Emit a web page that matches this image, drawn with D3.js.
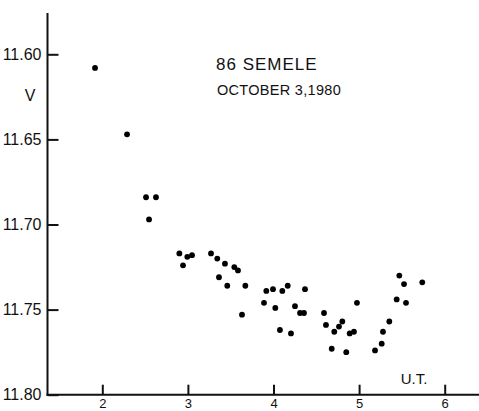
<!DOCTYPE html>
<html>
<head>
<meta charset="utf-8">
<script src="https://cdn.jsdelivr.net/npm/d3@7"></script>
<style>
  body { margin: 0; background: #fff; }
  svg text { font-family: "Liberation Sans", Arial, sans-serif; fill: #111; }
</style>
</head>
<body>
<div id="chart"></div>
<script>
// light curve of 86 Semele, 1980 Oct 3
const ut = [1.915, 2.289, 2.511, 2.627, 2.546, 2.900, 2.943, 2.993, 3.048, 3.270,
    3.343, 3.433, 3.363, 3.542, 3.585, 3.460, 3.671, 3.632, 3.916, 3.994,
    3.889, 4.103, 4.166, 4.368, 4.021, 4.251, 4.310, 4.356, 4.590, 4.975,
    4.075, 4.204, 4.613, 4.804, 4.765, 4.710, 4.680, 4.850, 4.890, 4.940,
    5.186, 5.264, 5.279, 5.353, 5.439, 5.548, 5.470, 5.525, 5.738];
const mag = [11.608, 11.647, 11.684, 11.684, 11.697, 11.717, 11.724, 11.719, 11.718, 11.717,
    11.720, 11.723, 11.731, 11.725, 11.727, 11.736, 11.736, 11.753, 11.739, 11.738,
    11.746, 11.739, 11.736, 11.738, 11.749, 11.748, 11.752, 11.752, 11.752, 11.746,
    11.762, 11.764, 11.759, 11.757, 11.760, 11.763, 11.773, 11.775, 11.764, 11.763,
    11.774, 11.770, 11.763, 11.757, 11.744, 11.746, 11.730, 11.735, 11.734];
const xTicks = [2, 3, 4, 5, 6];
const yTicks = [11.60, 11.65, 11.70, 11.75, 11.80];
const titleLines = ["86 SEMELE", "OCTOBER 3,1980"];

const width = 479, height = 411;
const svg = d3.select("#chart").append("svg")
    .attr("width", width)
    .attr("height", height);

let x = d3.scaleLinear().domain([2, 6]).range([102.3, 444.7]);
let y = d3.scaleLinear().domain([11.60, 11.80]).range([54.3, 394.7]);
const x0 = 47.5, yTop = 13;

// y axis, ticks pointing inward
let yAxis = svg.append("g")
    .attr("class", "y-axis")
    .attr("transform", `translate(${x0},0)`)
    .call(d3.axisLeft(y).tickValues(yTicks).tickFormat(d3.format(".2f")).tickSize(-11).tickPadding(6));
yAxis.select(".domain").remove();
yAxis.selectAll(".tick line").attr("stroke", "#111").attr("stroke-width", 2);
yAxis.selectAll(".tick text").attr("font-size", 16).attr("fill", "#111");

// x axis, ticks pointing up
let xAxis = svg.append("g")
    .attr("class", "x-axis")
    .attr("transform", `translate(0,${y(11.80)})`)
    .call(d3.axisBottom(x).tickValues(xTicks).tickFormat(d3.format("d")).tickSize(-10).tickPadding(4));
xAxis.select(".domain").remove();
xAxis.selectAll(".tick line").attr("stroke", "#111").attr("stroke-width", 2);
xAxis.selectAll(".tick text").attr("font-size", 13).attr("fill", "#111");

// spines
svg.append("line")
    .attr("x1", x0).attr("x2", x0)
    .attr("y1", yTop).attr("y2", y(11.80) + 1)
    .attr("stroke", "#111").attr("stroke-width", 2);
svg.append("line")
    .attr("x1", x0 - 1).attr("x2", width)
    .attr("y1", y(11.80)).attr("y2", y(11.80))
    .attr("stroke", "#111").attr("stroke-width", 2);

// points
svg.selectAll(".pt")
    .data(ut.map((d, i) => ({ u: d, v: mag[i] })))
    .enter()
    .append("circle")
    .attr("class", "pt")
    .attr("cx", d => x(d.u))
    .attr("cy", d => y(d.v))
    .attr("r", 2.9)
    .attr("fill", "#000");

// labels
svg.append("text").attr("x", 30).attr("y", 101).attr("text-anchor", "middle")
    .attr("font-size", 16).text("V");
svg.append("text").attr("x", 414).attr("y", 383.5).attr("text-anchor", "middle")
    .attr("font-size", 15).text("U.T.");
svg.append("text").attr("x", 216).attr("y", 69.5)
    .attr("font-size", 17).attr("letter-spacing", 1).text(titleLines[0]);
svg.append("text").attr("x", 217).attr("y", 94.5)
    .attr("font-size", 14.5).attr("letter-spacing", 0.3).text(titleLines[1]);
</script>
</body>
</html>
